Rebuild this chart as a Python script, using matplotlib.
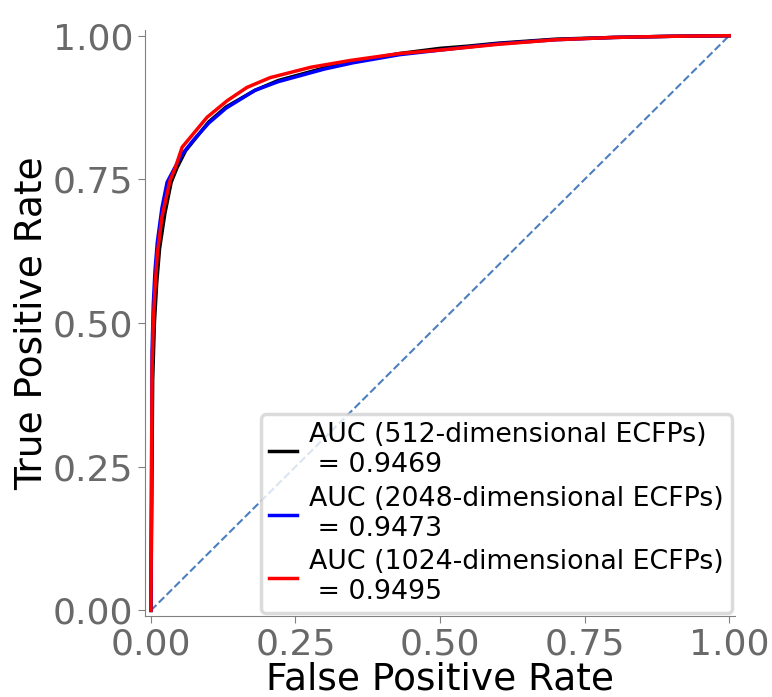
import matplotlib
matplotlib.use("Agg")
import matplotlib.pyplot as plt

# ROC curves
fpr_512 = [0, 0.003, 0.006, 0.010, 0.015, 0.024, 0.035, 0.045, 0.060, 0.080, 0.100, 0.130,
           0.180, 0.220, 0.300, 0.350, 0.430, 0.500, 0.550, 0.600, 0.700, 0.800, 0.900, 1.0]
tpr_512 = [0, 0.400, 0.500, 0.570, 0.630, 0.690, 0.745, 0.770, 0.800, 0.825, 0.850, 0.876,
           0.905, 0.922, 0.944, 0.955, 0.969, 0.978, 0.982, 0.987, 0.994, 0.997, 0.999, 1.0]

fpr_2048 = [0, 0.002, 0.004, 0.007, 0.011, 0.019, 0.028, 0.040, 0.055, 0.075, 0.100, 0.130,
            0.180, 0.220, 0.300, 0.350, 0.430, 0.500, 0.600, 0.700, 0.800, 0.900, 1.0]
tpr_2048 = [0, 0.450, 0.530, 0.590, 0.640, 0.700, 0.745, 0.768, 0.795, 0.820, 0.848, 0.874,
            0.905, 0.920, 0.942, 0.953, 0.967, 0.975, 0.986, 0.993, 0.997, 0.999, 1.0]

fpr_1024 = [0, 0.002, 0.004, 0.007, 0.011, 0.019, 0.033, 0.042, 0.054, 0.073, 0.097, 0.132,
            0.166, 0.206, 0.276, 0.345, 0.430, 0.500, 0.600, 0.700, 0.800, 0.900, 1.0]
tpr_1024 = [0, 0.420, 0.500, 0.560, 0.620, 0.684, 0.748, 0.770, 0.806, 0.829, 0.858, 0.887,
            0.910, 0.927, 0.945, 0.957, 0.969, 0.975, 0.985, 0.993, 0.997, 0.999, 1.0]

labels = ["AUC (512-dimensional ECFPs)\n = 0.9469",
          "AUC (2048-dimensional ECFPs)\n = 0.9473",
          "AUC (1024-dimensional ECFPs)\n = 0.9495"]

fig = plt.figure(figsize=(7.72, 6.97), dpi=100)
ax = fig.add_axes([0.188, 0.116, 0.764, 0.841])

ax.plot([0, 1], [0, 1], linestyle='--', color='#4c7fbf', linewidth=1.5)
ax.plot(fpr_512, tpr_512, color='black', linewidth=2.5, label=labels[0])
ax.plot(fpr_2048, tpr_2048, color='blue', linewidth=2.5, label=labels[1])
ax.plot(fpr_1024, tpr_1024, color='red', linewidth=2.5, label=labels[2])

ax.set_xlim(-0.01, 1.01)
ax.set_ylim(-0.01, 1.01)
ax.set_xticks([0, 0.25, 0.5, 0.75, 1.0])
ax.set_yticks([0, 0.25, 0.5, 0.75, 1.0])
ax.set_xticklabels(['0.00', '0.25', '0.50', '0.75', '1.00'])
ax.set_yticklabels(['0.00', '0.25', '0.50', '0.75', '1.00'])

for side in ['top', 'right']:
    ax.spines[side].set_visible(False)
for side in ['left', 'bottom']:
    ax.spines[side].set_color('gray')
ax.tick_params(colors='gray', labelcolor='dimgray', labelsize=26, length=5)

ax.set_xlabel('False Positive Rate', fontsize=27, labelpad=0)
ax.set_ylabel('True Positive Rate', fontsize=27, labelpad=2)

leg = ax.legend(loc='lower right', fontsize=19.3, handlelength=1.06,
                borderaxespad=0.1, borderpad=0.3, labelspacing=0.28,
                handletextpad=0.45)
leg.get_frame().set_edgecolor('lightgray')
leg.get_frame().set_linewidth(2.5)

plt.savefig('out.png', dpi=100)
